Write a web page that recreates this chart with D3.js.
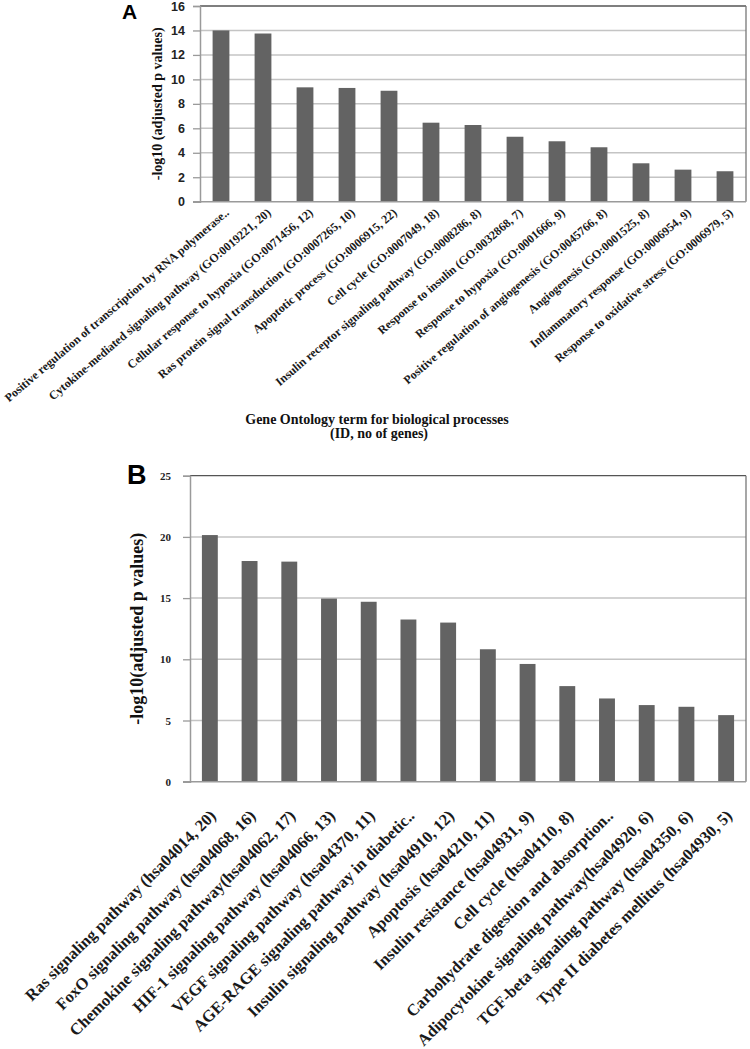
<!DOCTYPE html>
<html><head><meta charset="utf-8">
<script src="https://cdn.jsdelivr.net/npm/d3@7"></script>
<style>body{margin:0;background:#fff}</style>
</head><body>
<script>
const goTerms = [
  "Positive regulation of transcription by RNA polymerase..",
  "Cytokine-mediated signaling pathway (GO:0019221, 20)",
  "Cellular response to hypoxia (GO:0071456, 12)",
  "Ras protein signal transduction (GO:0007265, 10)",
  "Apoptotic process (GO:0006915, 22)",
  "Cell cycle (GO:0007049, 18)",
  "Insulin receptor signaling pathway (GO:0008286, 8)",
  "Response to insulin (GO:0032868, 7)",
  "Response to hypoxia (GO:0001666, 9)",
  "Positive regulation of angiogenesis (GO:0045766, 8)",
  "Angiogenesis (GO:0001525, 8)",
  "Inflammatory response (GO:0006954, 9)",
  "Response to oxidative stress (GO:0006979, 5)"
];
const goValues = [14.0, 13.75, 9.35, 9.3, 9.07, 6.46, 6.27, 5.31, 4.94, 4.45, 3.14, 2.62, 2.49];
const goTicks = [0, 2, 4, 6, 8, 10, 12, 14, 16];

const keggTerms = [
  "Ras signaling pathway (hsa04014, 20)",
  "FoxO signaling pathway (hsa04068, 16)",
  "Chemokine signaling pathway(hsa04062, 17)",
  "HIF-1 signaling pathway (hsa04066, 13)",
  "VEGF signaling pathway (hsa04370, 11)",
  "AGE-RAGE signaling pathway in diabetic..",
  "Insulin signaling pathway (hsa04910, 12)",
  "Apoptosis (hsa04210, 11)",
  "Insulin resistance (hsa04931, 9)",
  "Cell cycle (hsa04110, 8)",
  "Carbohydrate digestion and absorption..",
  "Adipocytokine signaling pathway(hsa04920, 6)",
  "TGF-beta signaling pathway (hsa04350, 6)",
  "Type II diabetes mellitus (hsa04930, 5)"
];
const keggValues = [20.15, 18.03, 17.98, 14.96, 14.7, 13.25, 13.0, 10.82, 9.62, 7.81, 6.8, 6.26, 6.12, 5.44];
const keggTicks = [0, 5, 10, 15, 20, 25];

const svg = d3.select("body").append("svg").attr("width", 750).attr("height", 1049);

function panel(cfg) {
  const g = svg.append("g");
  const x = d3.scaleBand().domain(cfg.terms).range([cfg.left, cfg.right]).paddingInner(0.6).paddingOuter(0.3);
  const y = d3.scaleLinear().domain([0, cfg.max]).range([cfg.bottom, cfg.top]);
  g.append("g").selectAll("line").data(cfg.ticks.slice(1, -1)).join("line")
    .attr("x1", cfg.left).attr("x2", cfg.right)
    .attr("y1", d => y(d)).attr("y2", d => y(d))
    .attr("stroke", "#c4c4c4").attr("stroke-width", 1.5);
  g.append("line").attr("x1", cfg.left).attr("x2", cfg.right).attr("y1", y(cfg.max)).attr("y2", y(cfg.max))
    .attr("stroke", "#555").attr("stroke-width", 1.3);
  g.append("line").attr("x1", cfg.right).attr("x2", cfg.right).attr("y1", y(cfg.max)).attr("y2", y(0))
    .attr("stroke", "#777").attr("stroke-width", 1.3);
  g.append("g").selectAll("rect").data(cfg.terms).join("rect")
    .attr("x", d => x(d)).attr("width", x.bandwidth())
    .attr("y", (d, i) => y(cfg.values[i]))
    .attr("height", (d, i) => y(0) - y(cfg.values[i]))
    .attr("fill", "#636363");
  const ya = g.append("g").attr("transform", `translate(${cfg.left},0)`)
    .call(d3.axisLeft(y).tickValues(cfg.ticks).tickSize(7).tickPadding(cfg.tickPad).tickFormat(d3.format("d")));
  ya.select(".domain").attr("stroke", "#9a9a9a").attr("stroke-width", 1.5);
  ya.selectAll(".tick line").attr("stroke", "#9a9a9a").attr("stroke-width", 1.3);
  ya.selectAll(".tick text").attr("font-family", cfg.tickFont).attr("font-weight", "bold")
    .attr("font-size", cfg.tickSize).attr("fill", "#222");
  g.append("line").attr("x1", cfg.left - 7).attr("x2", cfg.right).attr("y1", y(0)).attr("y2", y(0))
    .attr("stroke", "#9a9a9a").attr("stroke-width", 1.5);
  g.append("g").selectAll("text").data(cfg.terms).join("text")
    .attr("transform", d => `translate(${x(d) + x.bandwidth() / 2 + cfg.lblDx},${y(0) + cfg.lblDy}) rotate(${cfg.angle})`)
    .attr("text-anchor", "end").attr("dy", "0.35em")
    .attr("font-family", "Liberation Serif").attr("font-weight", "bold")
    .attr("font-size", cfg.lblSize).attr("fill", "#1a1a1a")
    .text(d => d);
  g.append("text").attr("transform", `translate(${cfg.ytX},${(cfg.top + cfg.bottom) / 2 + cfg.ytDy}) rotate(-90)`)
    .attr("text-anchor", "middle").attr("font-family", "Liberation Serif").attr("font-weight", "bold")
    .attr("font-size", cfg.ytSize).attr("fill", "#111").text(cfg.ytitle);
  g.append("text").attr("x", cfg.letterX).attr("y", cfg.letterY)
    .attr("font-family", "Liberation Sans").attr("font-weight", "bold")
    .attr("font-size", cfg.letterSize).attr("fill", "#000").text(cfg.letter);
  return g;
}

panel({
  terms: goTerms, values: goValues, ticks: goTicks, max: 16,
  left: 200, right: 746, top: 6, bottom: 201.7,
  tickFont: "Liberation Sans", tickSize: 12.5, tickPad: 8,
  lblDx: 6, lblDy: 9, angle: -40.5, lblSize: 12,
  ytitle: "-log10 (adjusted p values)", ytX: 162, ytDy: 0, ytSize: 14,
  letter: "A", letterX: 122, letterY: 19, letterSize: 21
});

svg.append("text").attr("x", 377).attr("y", 424).attr("text-anchor", "middle")
  .attr("font-family", "Liberation Serif").attr("font-weight", "bold").attr("font-size", 14).attr("fill", "#111")
  .text("Gene Ontology term for biological processes");
svg.append("text").attr("x", 379).attr("y", 438).attr("text-anchor", "middle")
  .attr("font-family", "Liberation Serif").attr("font-weight", "bold").attr("font-size", 14).attr("fill", "#111")
  .text("(ID, no of genes)");

panel({
  terms: keggTerms, values: keggValues, ticks: keggTicks, max: 25,
  left: 190, right: 746, top: 475.7, bottom: 781.7,
  tickFont: "Liberation Serif", tickSize: 11, tickPad: 12,
  lblDx: 3, lblDy: 31, angle: -45, lblSize: 16.4,
  ytitle: "-log10(adjusted p values)", ytX: 143, ytDy: 0, ytSize: 18,
  letter: "B", letterX: 127, letterY: 484, letterSize: 27
});
</script>
</body></html>
